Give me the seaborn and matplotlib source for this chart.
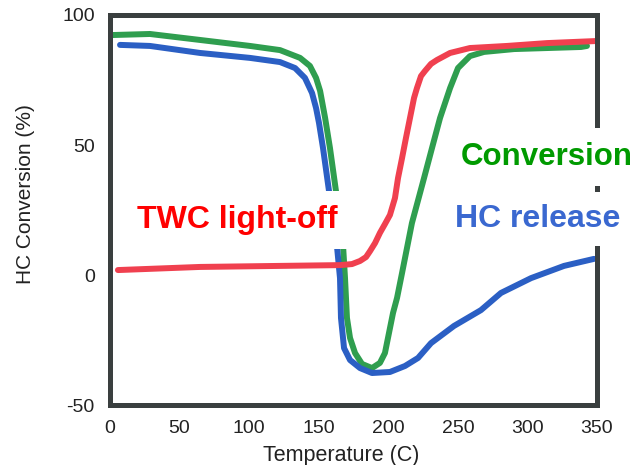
import matplotlib
matplotlib.use("Agg")
import matplotlib.pyplot as plt
import seaborn as sns
import pandas as pd

# Light-off curves: temperature (C) vs HC conversion (%)
conv_temp = [2.2, 28.7, 64.7, 100.6, 122.2, 136.6, 143.7, 148.1, 151.0, 154.6, 158.1,
             163.1, 167.5, 168.9, 170.3, 172.5, 176.1, 181.1, 188.3, 194.0, 197.6, 200.5,
             203.4, 206.3, 209.9, 217.0, 225.7, 231.4, 237.2, 244.4, 250.1, 258.7, 268.8,
             290.4, 338.5, 342.8]
conv_val = [92.3, 92.7, 90.4, 88.1, 86.5, 83.5, 80.4, 75.8, 70.8, 60.4, 48.8,
            29.6, 11.2, -1.2, -16.5, -24.2, -30.0, -34.2, -35.8, -33.8, -30.0, -22.3,
            -14.6, -8.8, 0.8, 20.0, 37.3, 48.8, 60.4, 71.9, 79.6, 84.2, 85.8,
            86.9, 87.7, 88.1]

rel_temp = [7.2, 28.7, 64.7, 100.6, 122.2, 133.0, 140.1, 145.2, 148.1, 150.2, 153.1,
            158.1, 163.1, 165.3, 166.0, 168.2, 172.5, 179.7, 188.3, 201.2, 212.0, 221.4,
            230.7, 247.2, 266.6, 281.0, 302.6, 326.3, 347.8]
rel_val = [88.5, 88.1, 85.4, 83.5, 81.9, 79.6, 75.8, 70.0, 64.2, 58.5, 48.8,
           29.6, 11.2, -1.2, -16.5, -28.1, -32.7, -35.8, -37.7, -37.3, -35.0, -31.9,
           -26.2, -19.6, -13.5, -6.9, -1.2, 3.5, 6.2]

twc_temp = [5.7, 64.7, 122.2, 165.3, 173.9, 179.7, 184.0, 186.9, 190.5, 194.0, 197.6,
            201.2, 204.8, 207.0, 209.9, 212.7, 215.6, 218.5, 220.6, 223.5, 226.4, 230.7,
            235.0, 244.4, 258.7, 285.3, 314.1, 350.0]
twc_val = [1.9, 3.1, 3.5, 3.8, 4.2, 5.4, 6.9, 9.2, 12.3, 16.2, 19.6,
           23.1, 29.6, 37.3, 45.0, 52.7, 60.4, 68.1, 71.9, 76.5, 78.5, 81.2,
           82.7, 85.4, 87.3, 88.1, 89.2, 90.0]

x_ticks = [0, 50, 100, 150, 200, 250, 300, 350]
y_ticks = [-50, 0, 50, 100]

sns.set_theme(style="white")
plt.rcParams["font.family"] = ["Liberation Sans", "DejaVu Sans"]
plt.rcParams["axes.unicode_minus"] = False

fig = plt.figure(figsize=(6.34, 4.65), dpi=100)
ax = fig.add_axes([110 / 634, 1 - 405 / 465, 487 / 634, 390 / 465])

lw = 4.3
style = dict(lw=lw, sort=False, estimator=None, solid_capstyle="round",
             solid_joinstyle="round")
sns.lineplot(data=pd.DataFrame({"t": conv_temp, "v": conv_val}), x="t", y="v", ax=ax,
             color="#2f9e4f", **style)
sns.lineplot(data=pd.DataFrame({"t": rel_temp, "v": rel_val}), x="t", y="v", ax=ax,
             color="#2b5fc4", **style)
sns.lineplot(data=pd.DataFrame({"t": twc_temp, "v": twc_val}), x="t", y="v", ax=ax,
             color="#f0404f", **style)

ax.set_xlim(0, 350)
ax.set_ylim(-50, 100)
ax.set_xticks(x_ticks)
ax.set_yticks(y_ticks)
ax.set_xlabel("Temperature (C)", fontsize=15.5, color="#222222")
ax.set_ylabel("HC Conversion (%)", fontsize=15, color="#222222")
ax.xaxis.set_label_coords(0.474, -0.103)
ax.yaxis.set_label_coords(-0.155, 0.54)
ax.tick_params(direction="in", length=3, width=3.5, color="#3a3f3f",
               labelsize=14, labelcolor="#222222", pad=11)
for s in ax.spines.values():
    s.set_visible(True)
    s.set_linewidth(3.6)
    s.set_color("#3a3f3f")

# Curve labels on white boxes
ax.text(0.055, 0.474, "TWC light-off", transform=ax.transAxes, fontsize=23,
        fontweight="bold", color="#ff0000", ha="left", va="center",
        bbox=dict(facecolor="white", edgecolor="none", pad=10), zorder=10, clip_on=False)
fig.text(461 / 634, 1 - 157 / 465, "Conversion", fontsize=22.5, fontweight="bold",
         color="#009a00", ha="left", va="center", zorder=10,
         bbox=dict(facecolor="white", edgecolor="none", pad=10))
fig.text(455 / 634, 1 - 219 / 465, "HC release", fontsize=23, fontweight="bold",
         color="#3a68d0", ha="left", va="center", zorder=10,
         bbox=dict(facecolor="white", edgecolor="none", pad=9))

fig.savefig("out.png", dpi=100)
